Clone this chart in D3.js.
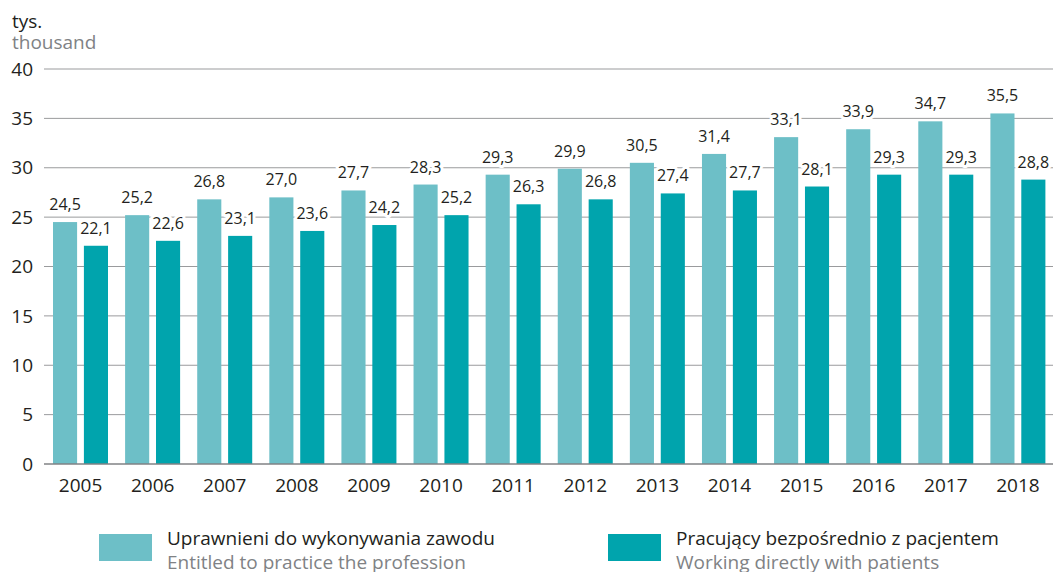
<!DOCTYPE html>
<html>
<head>
<meta charset="utf-8">
<script src="https://cdn.jsdelivr.net/npm/d3@7"></script>
<style>
  body { margin: 0; background: #fff; }
  svg { display: block; font-family: 'Open Sans', sans-serif; }
  .grid line { stroke: #9a9b9d; stroke-width: 1; }
  .tick-label { font-size: 19px; fill: #231f20; }
  .val { font-size: 16px; fill: #231f20; stroke: #fff; stroke-width: 6px; paint-order: stroke; stroke-linejoin: round; }
  .pl { font-size: 19px; fill: #231f20; }
  .en { font-size: 19px; fill: #808285; }
</style>
</head>
<body>
<svg></svg>
<script>
let width = 1053;
let height = 572;

let years = ['2005', '2006', '2007', '2008', '2009', '2010', '2011', '2012', '2013', '2014', '2015', '2016', '2017', '2018'];
let entitled = [24.5, 25.2, 26.8, 27.0, 27.7, 28.3, 29.3, 29.9, 30.5, 31.4, 33.1, 33.9, 34.7, 35.5];
let working = [22.1, 22.6, 23.1, 23.6, 24.2, 25.2, 26.3, 26.8, 27.4, 27.7, 28.1, 29.3, 29.3, 28.8];
let yTicks = [0, 5, 10, 15, 20, 25, 30, 35, 40];
let seriesNames = [
    { pl: 'Uprawnieni do wykonywania zawodu', en: 'Entitled to practice the profession', color: '#6dbfc7' },
    { pl: 'Pracujący bezpośrednio z pacjentem', en: 'Working directly with patients', color: '#00a4ad' }
];

let svg = d3.select('svg')
    .attr('width', width)
    .attr('height', height)

let x0 = d3.scaleBand()
    .domain(years)
    .range([44.5, 1054])
    .paddingInner(0)
    .paddingOuter(0)

let x1 = d3.scaleBand()
    .domain([0, 1])
    .range([8.5, 63.5])
    .paddingInner(0.22)

let y = d3.scaleLinear()
    .domain([0, 40])
    .range([464, 69])

let fmt = v => d3.format('.1f')(v).replace('.', ',');

// gridlines
svg.append('g')
    .attr('class', 'grid')
    .selectAll('line')
    .data(yTicks.filter(d => d > 0))
    .enter()
    .append('line')
    .attr('x1', 44)
    .attr('x2', width)
    .attr('y1', d => y(d))
    .attr('y2', d => y(d))

svg.append('g')
    .selectAll('text')
    .data(yTicks)
    .enter()
    .append('text')
    .attr('class', 'tick-label')
    .attr('x', 33)
    .attr('y', d => y(d))
    .attr('dy', '0.35em')
    .attr('text-anchor', 'end')
    .text(d => d)

// unit label
svg.append('text').attr('class', 'pl').attr('x', 12).attr('y', 28).text('tys.')
svg.append('text').attr('class', 'en').attr('x', 12).attr('y', 49).text('thousand')

let rows = years.map((yr, i) => ({ year: yr, vals: [entitled[i], working[i]] }));

let groups = svg.append('g')
    .selectAll('g')
    .data(rows)
    .enter()
    .append('g')
    .attr('transform', d => 'translate(' + x0(d.year) + ',0)')

groups.selectAll('rect')
    .data(d => d.vals)
    .enter()
    .append('rect')
    .attr('x', (d, i) => x1(i))
    .attr('width', x1.bandwidth())
    .attr('y', d => y(d))
    .attr('height', d => y(0) - y(d))
    .attr('fill', (d, i) => seriesNames[i].color)

groups.selectAll('text')
    .data(d => d.vals)
    .enter()
    .append('text')
    .attr('class', 'val')
    .attr('x', (d, i) => x1(i) + x1.bandwidth() / 2)
    .attr('y', d => y(d) - 12)
    .attr('text-anchor', 'middle')
    .text(d => fmt(d))

// baseline
svg.append('line')
    .attr('x1', 44)
    .attr('x2', width)
    .attr('y1', y(0))
    .attr('y2', y(0))
    .attr('stroke', '#808285')
    .attr('stroke-width', 1.5)

svg.append('g')
    .selectAll('text')
    .data(years)
    .enter()
    .append('text')
    .attr('class', 'tick-label')
    .attr('x', d => x0(d) + x0.bandwidth() / 2)
    .attr('y', 492)
    .attr('text-anchor', 'middle')
    .text(d => d)

// legend
let legendX = [99, 608];
let legend = svg.append('g')
    .selectAll('g')
    .data(seriesNames)
    .enter()
    .append('g')
    .attr('transform', (d, i) => 'translate(' + legendX[i] + ',0)')

legend.append('rect')
    .attr('x', 0)
    .attr('y', 534)
    .attr('width', 53)
    .attr('height', 27)
    .attr('fill', d => d.color)

legend.append('text')
    .attr('class', 'pl')
    .attr('x', 68)
    .attr('y', 545)
    .text(d => d.pl)

legend.append('text')
    .attr('class', 'en')
    .attr('x', 68)
    .attr('y', 569)
    .text(d => d.en)
</script>
</body>
</html>
